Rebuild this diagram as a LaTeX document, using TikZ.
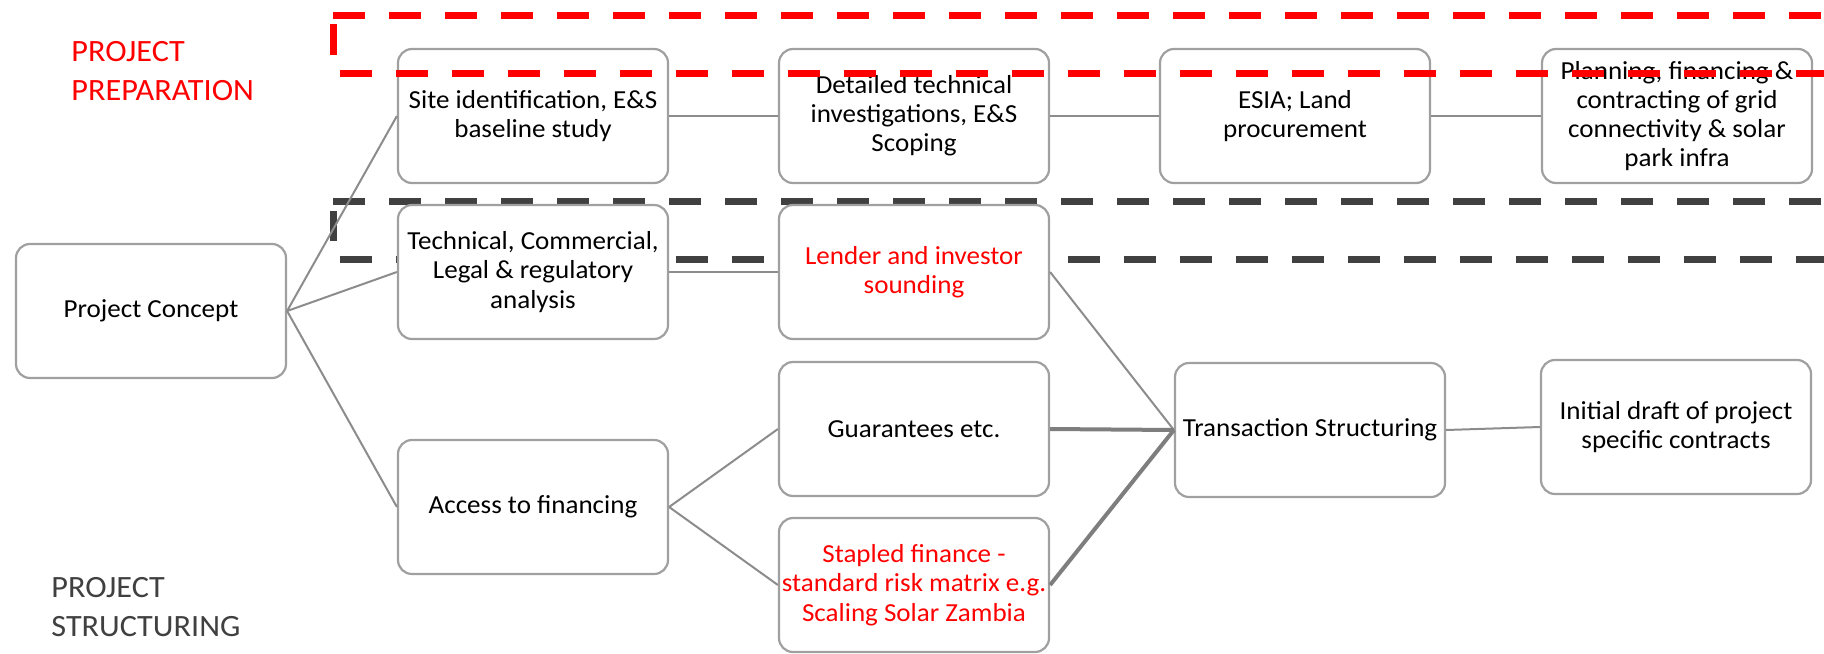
\documentclass[tikz,border=0pt]{standalone}
\usepackage{fontspec}
\setmainfont{Carlito}[FakeStretch=1.04]
\definecolor{boxgray}{HTML}{A0A0A0}
\definecolor{linkgray}{HTML}{8C8C8C}
\definecolor{framegray}{HTML}{404040}
\definecolor{prepred}{HTML}{FF0000}

\begin{document}
\begin{tikzpicture}[x=0.5pt,y=-0.5pt,font=\fontsize{13}{14.6}\selectfont,
  box/.style={draw=boxgray,line width=1.1pt,rounded corners=7pt,fill=white,
    minimum width=135pt,minimum height=67pt,align=center,inner sep=0pt},
  link/.style={draw=linkgray,line width=1pt},
  heavy/.style={draw=linkgray!90!black,line width=2pt},
  frame/.style={line width=3.5pt,dash pattern=on 16pt off 12pt}]
\useasboundingbox (0,0) rectangle (1824,653);

\begin{scope}
% phase labels
\node[anchor=west,inner sep=0pt,align=left,text=prepred,font=\fontsize{15.5}{19.5}\selectfont] (prep) at (71,71.5) {PROJECT\\PREPARATION};
\node[anchor=west,inner sep=0pt,align=left,text=framegray,font=\fontsize{15.5}{19.5}\selectfont] (struct) at (51,607.5) {PROJECT\\STRUCTURING};

% structuring frame (behind the boxes)
\draw[frame,framegray] (333,201) -- (1824,201);
\draw[frame,framegray] (333,211) -- (333,241);
\draw[frame,framegray] (340,259) -- (1824,259);

% boxes
\node[box] (concept) at (151,311) {Project Concept};
\node[box] (site) at (533,116) {Site identification, E\&S\\baseline study};
\node[box] (tech) at (533,272) {Technical, Commercial,\\Legal \& regulatory\\analysis};
\node[box] (access) at (533,507) {Access to financing};
\node[box] (detail) at (914,116) {Detailed technical\\investigations, E\&S\\Scoping};
\node[box,text=prepred] (lender) at (914,272) {Lender and investor\\sounding};
\node[box] (guar) at (914,429) {Guarantees etc.};
\node[box,text=prepred] (stapled) at (914,585) {Stapled finance -\\standard risk matrix e.g.\\Scaling Solar Zambia};
\node[box] (esia) at (1295,116) {ESIA; Land\\procurement};
\node[box] (plan) at (1677,116) {Planning, financing \&\\contracting of grid\\connectivity \& solar\\park infra};
\node[box] (trans) at (1310,430) {Transaction Structuring};
\node[box] (draft) at (1676,427) {Initial draft of project\\specific contracts};

% connectors
\draw[link] (concept.east) -- (site.west);
\draw[link] (concept.east) -- (tech.west);
\draw[link] (concept.east) -- (access.west);
\draw[link] (site.east) -- (detail.west);
\draw[link] (detail.east) -- (esia.west);
\draw[link] (esia.east) -- (plan.west);
\draw[link] (tech.east) -- (lender.west);
\draw[link] (access.east) -- (guar.west);
\draw[link] (access.east) -- (stapled.west);
\draw[link] (lender.east) -- (trans.west);
\draw[heavy] (guar.east) -- (trans.west);
\draw[heavy] (stapled.east) -- (trans.west);
\draw[link] (trans.east) -- (draft.west);

% preparation frame (over the boxes)
\draw[frame,prepred] (333,15) -- (1824,15);
\draw[frame,prepred] (333,24) -- (333,55);
\draw[frame,prepred] (340,73) -- (1824,73);
\end{scope}

\end{tikzpicture}
\end{document}
